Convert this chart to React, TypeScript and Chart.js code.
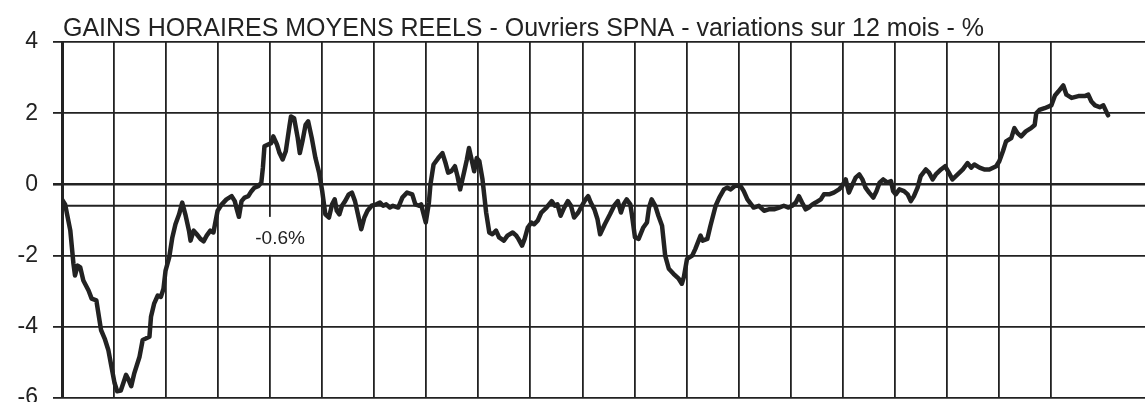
import React, { useEffect, useRef } from "react";
import { Chart, registerables } from "chart.js";

Chart.register(...registerables);

const TITLE = "GAINS HORAIRES MOYENS REELS - Ouvriers SPNA - variations sur 12 mois - %";
const REF_VALUE = -0.6;
const REF_LABEL = "-0.6%";
const Y_TICKS = [-6, -4, -2, 0, 2, 4];

// time in years from the start of the series
const times = [
  0.0, 0.06, 0.16, 0.22, 0.25, 0.3, 0.35, 0.41, 0.51, 0.57, 0.66, 0.75, 0.82, 0.89, 0.95, 1.01, 1.06, 1.13, 1.19, 1.23,
  1.28, 1.33, 1.39, 1.49, 1.55, 1.61, 1.68, 1.71, 1.77, 1.84, 1.9, 1.95, 1.99, 2.06, 2.12, 2.18, 2.25, 2.31, 2.37, 2.44,
  2.47, 2.53, 2.59, 2.66, 2.72, 2.78, 2.85, 2.91, 2.94, 2.99, 3.07, 3.16, 3.26, 3.32, 3.35, 3.4, 3.45, 3.51, 3.58, 3.64,
  3.7, 3.77, 3.83, 3.86, 3.89, 3.96, 4.02, 4.06, 4.13, 4.18, 4.24, 4.3, 4.37, 4.4, 4.46, 4.53, 4.57, 4.62, 4.68, 4.73,
  4.8, 4.87, 4.94, 5.0, 5.06, 5.13, 5.19, 5.24, 5.28, 5.33, 5.38, 5.44, 5.51, 5.57, 5.63, 5.7, 5.75, 5.81, 5.87, 5.95,
  6.04, 6.11, 6.17, 6.23, 6.3, 6.36, 6.46, 6.54, 6.63, 6.73, 6.79, 6.86, 6.9, 6.99, 7.05, 7.08, 7.14, 7.23, 7.31, 7.37,
  7.42, 7.48, 7.55, 7.6, 7.65, 7.73, 7.78, 7.82, 7.87, 7.92, 7.97, 8.02, 8.08, 8.15, 8.21, 8.27, 8.34, 8.4, 8.49, 8.56,
  8.66, 8.73, 8.77, 8.84, 8.89, 8.95, 9.02, 9.07, 9.14, 9.21, 9.31, 9.41, 9.47, 9.52, 9.58, 9.65, 9.72, 9.78, 9.84, 9.92,
  9.99, 10.06, 10.11, 10.16, 10.23, 10.29, 10.34, 10.43, 10.53, 10.61, 10.68, 10.74, 10.79, 10.85, 10.92, 10.95, 11.01, 11.08, 11.17, 11.24,
  11.28, 11.33, 11.4, 11.46, 11.53, 11.59, 11.66, 11.75, 11.85, 11.91, 11.95, 12.01, 12.11, 12.17, 12.27, 12.31, 12.4, 12.46, 12.56, 12.63,
  12.72, 12.78, 12.85, 12.94, 13.04, 13.1, 13.17, 13.29, 13.39, 13.49, 13.58, 13.68, 13.78, 13.87, 13.96, 14.03, 14.1, 14.16, 14.22, 14.29,
  14.35, 14.42, 14.48, 14.58, 14.64, 14.74, 14.83, 14.93, 14.99, 15.06, 15.12, 15.19, 15.25, 15.32, 15.38, 15.44, 15.51, 15.59, 15.65, 15.71,
  15.78, 15.86, 15.93, 15.97, 16.02, 16.09, 16.18, 16.25, 16.31, 16.37, 16.44, 16.5, 16.6, 16.66, 16.73, 16.79, 16.89, 16.97, 17.04, 17.11,
  17.21, 17.31, 17.4, 17.47, 17.53, 17.63, 17.72, 17.82, 17.95, 18.01, 18.08, 18.14, 18.24, 18.3, 18.36, 18.43, 18.52, 18.62, 18.69, 18.72,
  18.78, 18.88, 19.01, 19.08, 19.14, 19.24, 19.3, 19.4, 19.53, 19.65, 19.72, 19.78, 19.85, 19.94, 20.01, 20.1,
];

// real hourly earnings, 12-month change, %
const values = [
  -0.42, -0.56, -1.3, -2.23, -2.56, -2.28, -2.33, -2.7, -2.98, -3.21, -3.26, -4.09, -4.33, -4.65, -5.12, -5.58, -5.81, -5.79, -5.53, -5.35,
  -5.49, -5.67, -5.3, -4.84, -4.37, -4.33, -4.28, -3.72, -3.35, -3.12, -3.16, -2.93, -2.42, -2.05, -1.49, -1.12, -0.84, -0.51, -0.84, -1.3,
  -1.58, -1.3, -1.4, -1.53, -1.6, -1.44, -1.3, -1.35, -1.12, -0.74, -0.56, -0.42, -0.33, -0.47, -0.65, -0.91, -0.47, -0.37, -0.33, -0.19,
  -0.09, -0.05, 0.05, 0.47, 1.07, 1.12, 1.16, 1.35, 1.12, 0.88, 0.7, 0.93, 1.63, 1.91, 1.86, 1.3, 0.88, 1.21, 1.67, 1.77,
  1.3, 0.74, 0.33, -0.19, -0.84, -0.93, -0.56, -0.42, -0.74, -0.84, -0.6, -0.47, -0.28, -0.23, -0.47, -0.93, -1.26, -0.93, -0.74, -0.6,
  -0.56, -0.51, -0.6, -0.56, -0.65, -0.6, -0.65, -0.37, -0.23, -0.28, -0.56, -0.6, -0.56, -1.07, -0.51, 0.0, 0.56, 0.74, 0.88, 0.6,
  0.33, 0.37, 0.51, 0.23, -0.14, 0.37, 0.7, 1.02, 0.7, 0.37, 0.74, 0.65, 0.14, -0.79, -1.35, -1.4, -1.3, -1.49, -1.58, -1.44,
  -1.35, -1.44, -1.53, -1.72, -1.53, -1.21, -1.07, -1.12, -1.02, -0.79, -0.65, -0.47, -0.6, -0.56, -0.88, -0.65, -0.47, -0.6, -0.93, -0.79,
  -0.6, -0.42, -0.33, -0.51, -0.7, -0.98, -1.4, -1.12, -0.84, -0.6, -0.47, -0.79, -0.56, -0.42, -0.56, -0.84, -1.49, -1.53, -1.21, -1.07,
  -0.65, -0.42, -0.6, -0.88, -1.16, -2.0, -2.37, -2.51, -2.65, -2.79, -2.6, -2.09, -2.0, -1.81, -1.44, -1.58, -1.53, -1.16, -0.6, -0.37,
  -0.14, -0.09, -0.14, -0.03, -0.05, -0.19, -0.42, -0.65, -0.6, -0.74, -0.7, -0.7, -0.65, -0.6, -0.65, -0.6, -0.51, -0.33, -0.51, -0.7,
  -0.65, -0.56, -0.51, -0.42, -0.28, -0.28, -0.23, -0.14, -0.05, 0.14, -0.23, 0.0, 0.19, 0.28, 0.14, -0.09, -0.23, -0.37, -0.19, 0.05,
  0.14, 0.05, 0.09, -0.19, -0.28, -0.14, -0.19, -0.28, -0.47, -0.33, -0.09, 0.23, 0.42, 0.33, 0.14, 0.28, 0.42, 0.51, 0.33, 0.14,
  0.28, 0.42, 0.6, 0.47, 0.56, 0.47, 0.42, 0.42, 0.51, 0.65, 0.93, 1.21, 1.3, 1.58, 1.44, 1.35, 1.49, 1.58, 1.67, 2.0,
  2.09, 2.14, 2.22, 2.5, 2.6, 2.78, 2.52, 2.43, 2.48, 2.48, 2.52, 2.33, 2.22, 2.17, 2.22, 1.94,
];

const X_MAX = 20.81;
const INK = "#222222";
const FONT = "'Liberation Sans', Arial, sans-serif";

export default function App() {
  const ref = useRef<HTMLCanvasElement | null>(null);

  useEffect(() => {
    const canvas = ref.current;
    if (!canvas) return;

    const overlay = {
      id: "overlay",
      beforeDatasetsDraw(chart: any) {
        const { ctx, chartArea, scales } = chart;
        const y = scales.y.getPixelForValue(REF_VALUE);
        ctx.save();
        ctx.strokeStyle = INK;
        ctx.lineWidth = 1.8;
        ctx.beginPath();
        ctx.moveTo(chartArea.left, y);
        ctx.lineTo(chartArea.right, y);
        ctx.stroke();
        // label with white box
        const lx = scales.x.getPixelForValue(4.19);
        const ly = scales.y.getPixelForValue(-1.53);
        ctx.font = `19px ${FONT}`;
        const w = ctx.measureText(REF_LABEL).width;
        ctx.fillStyle = "#ffffff";
        ctx.fillRect(lx - w / 2 - 8, ly - 22, w + 16, 38);
        ctx.fillStyle = INK;
        ctx.textAlign = "center";
        ctx.textBaseline = "middle";
        ctx.fillText(REF_LABEL, lx, ly);
        ctx.restore();
      },
      afterDraw(chart: any) {
        const { ctx, chartArea } = chart;
        ctx.save();
        ctx.font = `25px ${FONT}`;
        ctx.fillStyle = INK;
        ctx.textAlign = "left";
        ctx.textBaseline = "alphabetic";
        ctx.fillText(TITLE, chartArea.left + 1, 36);
        ctx.restore();
      },
    };

    const chart = new Chart(canvas, {
      type: "line",
      data: {
        datasets: [
          {
            data: times.map((t, i) => ({ x: t, y: values[i] })),
            borderColor: INK,
            borderWidth: 4.5,
            pointRadius: 0,
            tension: 0,
            borderJoinStyle: "round",
            borderCapStyle: "round",
          },
        ],
      },
      options: {
        animation: false,
        responsive: false,
        layout: { padding: { top: 42, left: 0, right: 0, bottom: 4 } },
        plugins: { legend: { display: false }, tooltip: { enabled: false }, title: { display: false } },
        scales: {
          x: {
            type: "linear",
            min: 0,
            max: X_MAX,
            ticks: { display: false, stepSize: 1 },
            grid: { color: INK, lineWidth: 1.8, drawTicks: false },
            border: { display: false },
            afterBuildTicks: (axis: any) => {
              axis.ticks = axis.ticks.filter((t: any) => Math.abs(t.value - Math.round(t.value)) < 1e-6);
            },
            afterFit: (axis: any) => {
              axis.height = 0;
              axis.paddingLeft = 0;
              axis.paddingRight = 0;
            },
          },
          y: {
            min: -6,
            max: 4,
            afterBuildTicks: (axis: any) => {
              axis.ticks = Y_TICKS.map((v) => ({ value: v }));
            },
            ticks: {
              color: INK,
              font: { family: FONT, size: 23 },
              padding: 15,
            },
            grid: {
              color: INK,
              lineWidth: (c: any) => (c.tick && c.tick.value === 0 ? 2.6 : 1.8),
              drawTicks: true,
              tickLength: 9,
            },
            border: { display: true, color: INK, width: 3 },
            afterFit: (axis: any) => {
              axis.width = 62;
              axis.paddingTop = 0;
              axis.paddingBottom = 0;
            },
          },
        },
      },
      plugins: [overlay],
    } as any);

    return () => chart.destroy();
  }, []);

  return (
    <div style={{ position: "absolute", left: 0, top: 0, width: 1145, height: 402, background: "#fff" }}>
      <canvas ref={ref} width={1145} height={402} />
    </div>
  );
}
